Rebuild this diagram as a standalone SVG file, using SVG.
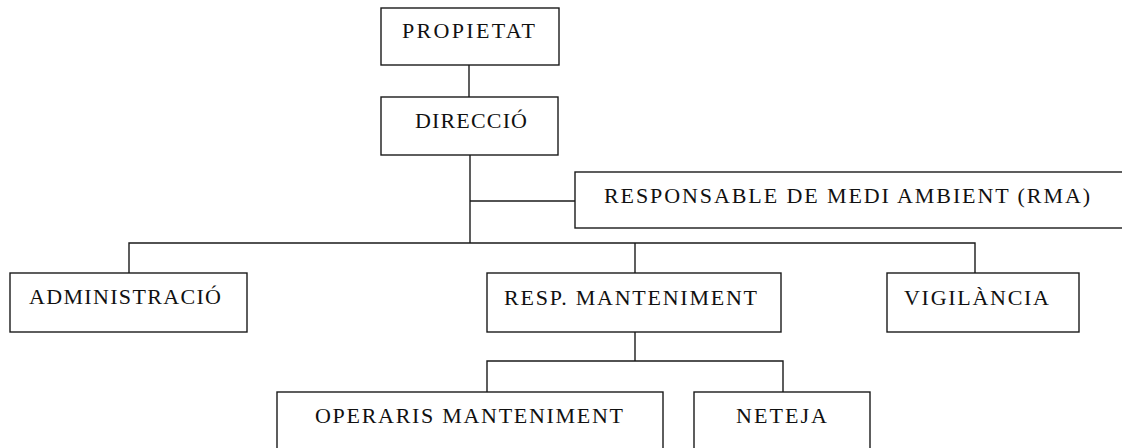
<svg xmlns="http://www.w3.org/2000/svg" width="1122" height="448" viewBox="0 0 1122 448">
<style>
.box{fill:#fff;stroke:#1a1a1a;stroke-width:1.4}
.lbl{font-family:"Liberation Serif","Times New Roman",serif;font-size:22px;fill:#111}
.con{fill:none;stroke:#1a1a1a;stroke-width:1.4}
</style>
<rect width="1122" height="448" fill="#fff"/>
<g id="connectors">
<line class="con" x1="469" y1="65" x2="469" y2="97"/>
<line class="con" x1="470" y1="155" x2="470" y2="243"/>
<line class="con" x1="470" y1="201" x2="575" y2="201"/>
<polyline class="con" points="129,273 129,243 975,243 975,273"/>
<line class="con" x1="635" y1="243" x2="635" y2="273"/>
<line class="con" x1="635" y1="332" x2="635" y2="361"/>
<polyline class="con" points="487,392 487,361 783,361 783,392"/>
</g>
<g id="propietat">
<rect class="box" x="381" y="8" width="178" height="57"/>
<text class="lbl" x="402" y="38" textLength="133" lengthAdjust="spacing">PROPIETAT</text>
</g>
<g id="direccio">
<rect class="box" x="381" y="97" width="177" height="58"/>
<text class="lbl" x="415" y="128" textLength="112" lengthAdjust="spacing">DIRECCIÓ</text>
</g>
<g id="rma">
<rect class="box" x="575" y="172" width="560" height="56"/>
<text class="lbl" x="604" y="203" textLength="486" lengthAdjust="spacing">RESPONSABLE DE MEDI AMBIENT (RMA)</text>
</g>
<g id="administracio">
<rect class="box" x="10" y="273" width="237" height="59"/>
<text class="lbl" x="29" y="304" textLength="192" lengthAdjust="spacing">ADMINISTRACIÓ</text>
</g>
<g id="resp-manteniment">
<rect class="box" x="487" y="273" width="294" height="59"/>
<text class="lbl" x="504" y="305" textLength="253" lengthAdjust="spacing">RESP. MANTENIMENT</text>
</g>
<g id="vigilancia">
<rect class="box" x="887" y="273" width="192" height="59"/>
<text class="lbl" x="904" y="305" textLength="145" lengthAdjust="spacing">VIGILÀNCIA</text>
</g>
<g id="operaris">
<rect class="box" x="277" y="392" width="386" height="70"/>
<text class="lbl" x="315" y="423" textLength="308" lengthAdjust="spacing">OPERARIS MANTENIMENT</text>
</g>
<g id="neteja">
<rect class="box" x="694" y="392" width="176" height="70"/>
<text class="lbl" x="736" y="423" textLength="91" lengthAdjust="spacing">NETEJA</text>
</g>
</svg>
